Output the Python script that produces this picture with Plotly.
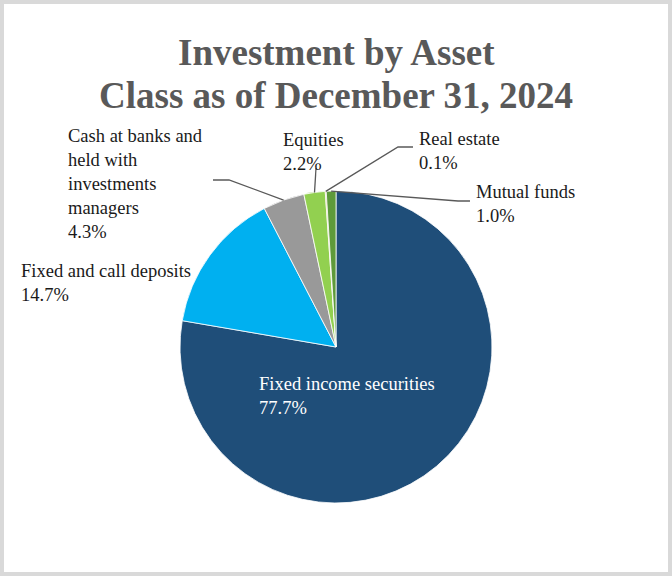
import math
import plotly.graph_objects as go

labels = ["Fixed income securities", "Fixed and call deposits",
          "Cash at banks and held with investments managers",
          "Equities", "Real estate", "Mutual funds"]
values = [77.7, 14.7, 4.3, 2.2, 0.1, 1.0]
colors = ["#1F4E79", "#00B0F0", "#999999", "#92D050", "#E0A050", "#5E9A3A"]
label_text = ["Fixed income securities", "Fixed and call deposits",
              "Cash at banks and<br>held with<br>investments<br>managers",
              "Equities", "Real estate", "Mutual funds"]
title_lines = ["Investment by Asset", "Class as of December 31, 2024"]

W, H = 672, 576
cx, cy, R = 336, 347, 156  # pie centre / radius in pixels (from top)

fig = go.Figure()
fig.add_trace(go.Pie(
    labels=labels, values=values, sort=False, direction="clockwise", rotation=0,
    marker=dict(colors=colors, line=dict(color="white", width=0.8)),
    textinfo="none", hoverinfo="label+percent", showlegend=False,
    domain=dict(x=[(cx - R) / W, (cx + R) / W], y=[(H - cy - R) / H, (H - cy + R) / H]),
))

# label placement (pixels: left x, top-line centre y)
label_pos = {
    0: (258, 385),
    1: (20, 272),
    2: (67, 137),
    3: (282, 141),
    4: (418, 140),
    5: (475, 193),
}
font_col = {0: "white"}
for i, (x, y) in label_pos.items():
    txt = f"{label_text[i]}<br>{values[i]:.1f}%"
    fig.add_annotation(x=(x - 1) / W, y=1 - (y - 13) / H, xref="paper", yref="paper",
                       text=txt, showarrow=False, xanchor="left", yanchor="top",
                       align="left",
                       font=dict(family="Liberation Serif", size=18.5,
                                 color=font_col.get(i, "#1a1a1a")))

# title lines
for line, yc in zip(title_lines, [52, 95]):
    fig.add_annotation(x=0.5, y=1 - yc / H, xref="paper", yref="paper",
                       text=f"<b>{line}</b>", showarrow=False,
                       xanchor="center", yanchor="middle",
                       font=dict(family="Liberation Serif", size=37, color="#595959"))

# leader lines from slice edge midpoints to labels
total = sum(values)
cum = 0
mids = []
for v in values:
    mids.append((cum + v / 2) / total * 2 * math.pi)
    cum += v

def edge(i):
    a = mids[i]
    return cx + R * math.sin(a), cy - R * math.cos(a)

leaders = {
    2: [(213, 180), (229, 180)],
    3: [(316, 168)],
    4: [(413, 147), (398, 147)],
    5: [(470, 201), (458, 201)],
}
for i, pts in leaders.items():
    ex, ey = edge(i)
    path_pts = pts + [(ex, ey)]
    d = "M " + " L ".join(f"{px / W:.5f},{1 - py / H:.5f}" for px, py in path_pts)
    fig.add_shape(type="path", path=d, xref="paper", yref="paper",
                  line=dict(color="#595959", width=1.3))

# frame
fig.add_shape(type="rect", xref="paper", yref="paper", x0=0, y0=0, x1=1, y1=1,
              line=dict(color="#D9D9D9", width=8), layer="below")

fig.update_layout(
    width=W, height=H, margin=dict(l=0, r=0, t=0, b=0),
    paper_bgcolor="white", plot_bgcolor="white",
)

fig.write_html("out.html", config={"displayModeBar": False},
               post_script="document.body.style.margin='0';document.body.style.overflow='hidden';")
